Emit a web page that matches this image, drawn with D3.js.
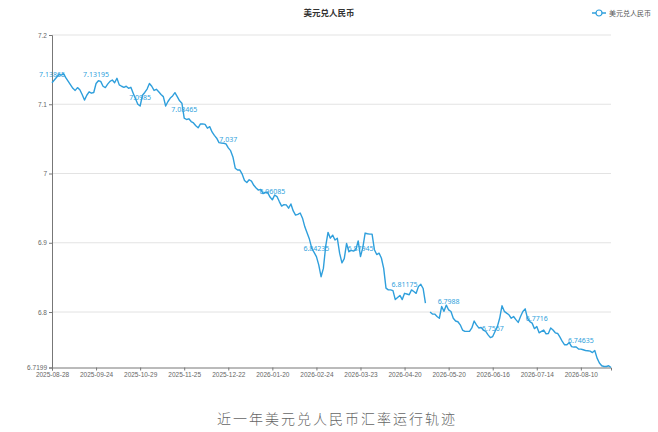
<!DOCTYPE html>
<html lang="zh">
<head>
<meta charset="UTF-8">
<title>美元兑人民币</title>
<script src="https://d3js.org/d3.v7.min.js"></script>
<style>
  html, body { margin: 0; padding: 0; background: #fff; overflow: hidden; }
  svg { display: block; font-family: "Noto Sans", "Noto Sans CJK SC", sans-serif; }
</style>
</head>
<body>
<svg width="658" height="432"></svg>
<script>
const seriesName = "美元兑人民币";
const caption = "近一年美元兑人民币汇率运行轨迹";

// trading days: weekdays between these dates, minus mainland holidays
const firstDay = "2025-08-28";
const lastDay = "2026-08-27";
const holidays = [
  "2025-10-01", "2025-10-02", "2025-10-03", "2025-10-06", "2025-10-07", "2025-10-08",
  "2026-01-01", "2026-01-02",
  "2026-02-16", "2026-02-17", "2026-02-18", "2026-02-19", "2026-02-20", "2026-02-23",
  "2026-04-06", "2026-05-01", "2026-05-04", "2026-05-05", "2026-06-19"
];

const rates = [
  7.131, 7.135, 7.139, 7.143, 7.142, 7.144, 7.138, 7.133, 7.128, 7.123,
  7.120, 7.124, 7.121, 7.114, 7.106, 7.113, 7.118, 7.116, 7.117, 7.130,
  7.134, 7.133, 7.126, 7.124, 7.129, 7.133, 7.135, 7.131, 7.1375, 7.128,
  7.126, 7.1245, 7.126, 7.123, 7.1245, 7.116, 7.108, 7.100, 7.0975, 7.113,
  7.117, 7.122, 7.130, 7.126, 7.120, 7.1216, 7.118, 7.114, 7.111, 7.0975,
  7.104, 7.109, 7.112, 7.1167, 7.111, 7.105, 7.1015, 7.080, 7.078, 7.079,
  7.075, 7.073, 7.069, 7.066, 7.0716, 7.0716, 7.071, 7.0654, 7.0677, 7.060,
  7.055, 7.051, 7.0446, 7.044, 7.0437, 7.0427, 7.037, 7.033, 7.024, 7.0077,
  7.005, 7.005, 6.999, 6.990, 6.987, 6.991, 6.989, 6.983, 6.979, 6.976,
  6.977, 6.971, 6.973, 6.9724, 6.966, 6.962, 6.969, 6.9667, 6.9595, 6.953,
  6.955, 6.9547, 6.950, 6.956, 6.946, 6.940, 6.941, 6.943, 6.9355, 6.923,
  6.914, 6.905, 6.892, 6.886, 6.880, 6.868, 6.851, 6.863, 6.895, 6.915,
  6.9066, 6.911, 6.904, 6.9066, 6.885, 6.871, 6.877, 6.899, 6.887, 6.889,
  6.888, 6.890, 6.9027, 6.880, 6.893, 6.914, 6.913, 6.9125, 6.9125, 6.890,
  6.883, 6.885, 6.878, 6.863, 6.8345, 6.832, 6.832, 6.831, 6.818, 6.821,
  6.824, 6.818, 6.827, 6.826, 6.825, 6.832, 6.8296, 6.827, 6.837, 6.840,
  6.834, 6.813, null, 6.800, 6.797, 6.797, 6.7935, 6.791, 6.808, 6.801,
  6.810, 6.803, 6.8007, 6.791, 6.787, 6.786, 6.7815, 6.774, 6.772, 6.772,
  6.772, 6.777, 6.787, 6.7815, 6.777, 6.7776, 6.774, 6.772, 6.767, 6.763,
  6.7646, 6.772, 6.779, 6.791, 6.809, 6.801, 6.7984, 6.796, 6.791, 6.7935,
  6.789, 6.785, 6.7935, 6.8007, 6.8046, 6.791, 6.786, 6.784, 6.776, 6.779,
  6.770, 6.772, 6.774, 6.7685, 6.769, 6.777, 6.774, 6.770, 6.769, 6.7638,
  6.7575, 6.7527, 6.7527, 6.756, 6.750, 6.7494, 6.7494, 6.7465, 6.7465, 6.7455,
  6.7445, 6.744, 6.7435, 6.7415, 6.7445, 6.7334, 6.7263, 6.7224, 6.7213, 6.7213,
  6.7224, 6.7199
];

// every 19th point carries a value label, same step as the date labels
const labelStep = 19;
const pointLabels = [
  "7.13865", "7.13195", "7.0985", "7.08465", "7.037", "6.96085", "6.84235",
  "6.87945", "6.81175", "6.7988", "6.7567", "6.7716", "6.74635"
];
const yTicks = [6.7199, 6.8, 6.9, 7, 7.1, 7.2];

const blue = "#2f9fdc";
const svg = d3.select("svg");

const parse = d3.timeParse("%Y-%m-%d");
const fmt = d3.timeFormat("%Y-%m-%d");
const days = d3.timeDay.range(parse(firstDay), d3.timeDay.offset(parse(lastDay), 1))
  .filter(d => d.getDay() % 6 !== 0 && !holidays.includes(fmt(d)))
  .map(fmt);

const plot = { left: 52, right: 611, top: 35, bottom: 367.5 };

const x = d3.scalePoint().domain(days).range([plot.left, plot.right]);
const y = d3.scaleLinear().domain([d3.min(rates), d3.max(yTicks)]).range([plot.bottom, plot.top]);

// title + legend
svg.append("text")
  .attr("x", 329).attr("y", 16)
  .attr("text-anchor", "middle")
  .attr("font-size", 8.5).attr("font-weight", "bold")
  .attr("font-family", "'Noto Sans CJK SC', sans-serif")
  .attr("fill", "#333")
  .text(seriesName);

const legend = svg.append("g").attr("transform", "translate(592,13)");
legend.append("line").attr("x1", 0).attr("x2", 14).attr("stroke", blue).attr("stroke-width", 1.5);
legend.append("circle").attr("cx", 7).attr("r", 3).attr("fill", "#fff").attr("stroke", blue).attr("stroke-width", 1.2);
legend.append("text")
  .attr("x", 17).attr("y", 2.5)
  .attr("font-size", 7).attr("fill", "#555")
  .attr("font-family", "'Noto Sans CJK SC', sans-serif")
  .text(seriesName);

// grid
svg.append("g")
  .selectAll("line")
  .data(yTicks.filter(t => t !== d3.min(rates)))
  .join("line")
  .attr("x1", plot.left).attr("x2", plot.right)
  .attr("y1", d => y(d)).attr("y2", d => y(d))
  .attr("stroke", "#e3e3e3");

// axes
const yAxis = svg.append("g")
  .attr("transform", `translate(${plot.left},0)`)
  .call(d3.axisLeft(y).tickValues(yTicks).tickSize(3).tickPadding(2).tickFormat(d => String(d)));

const tickIdx = d3.range(0, days.length, labelStep);
const xAxis = svg.append("g")
  .attr("transform", `translate(0,${plot.bottom})`)
  .call(d3.axisBottom(x).tickValues(tickIdx.map(i => days[i])).tickSize(3).tickPadding(2));

[yAxis, xAxis].forEach(g => {
  g.select(".domain").attr("stroke", "#777");
  g.selectAll(".tick line").attr("stroke", "#777");
  g.selectAll(".tick text").attr("fill", "#666").attr("font-size", 6.5);
});

// series
const line = d3.line()
  .defined(d => d != null)
  .x((d, i) => x(days[i]))
  .y(d => y(d));

svg.append("path")
  .datum(rates)
  .attr("fill", "none")
  .attr("stroke", blue)
  .attr("stroke-width", 1.4)
  .attr("stroke-linejoin", "round")
  .attr("d", line);

svg.append("g")
  .selectAll("text")
  .data(tickIdx)
  .join("text")
  .attr("x", i => x(days[i]))
  .attr("y", i => y(rates[i]) - 6)
  .attr("text-anchor", "middle")
  .attr("font-size", 7)
  .attr("fill", blue)
  .text((i, k) => pointLabels[k]);

// caption below the chart
svg.append("text")
  .attr("x", 337).attr("y", 424)
  .attr("text-anchor", "middle")
  .attr("font-size", 14)
  .attr("font-weight", 300)
  .attr("letter-spacing", 2)
  .attr("font-family", "'Noto Sans CJK SC', serif")
  .attr("fill", "#666")
  .text(caption);
</script>
</body>
</html>
